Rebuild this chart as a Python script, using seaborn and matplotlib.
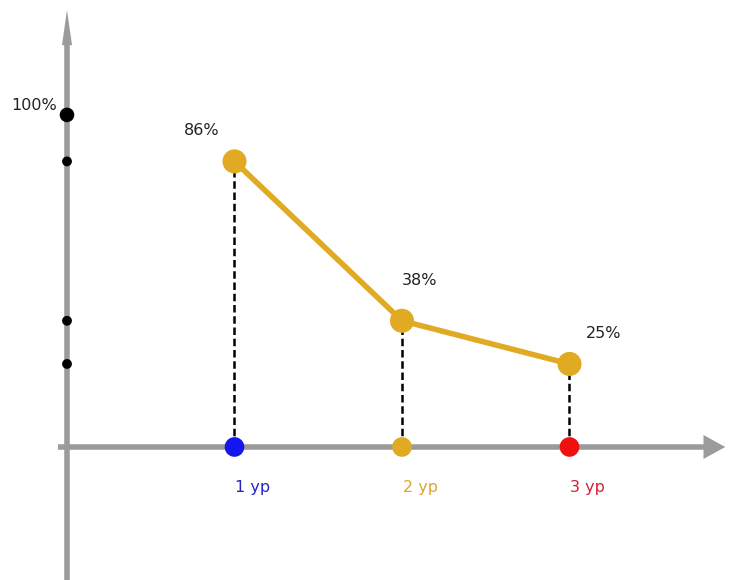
import matplotlib
matplotlib.use("Agg")
import matplotlib.pyplot as plt
import seaborn as sns
import pandas as pd

# Data
levels = ["1 ур", "2 ур", "3 ур"]
positions = [1, 2, 3]
values = [86, 38, 25]
level_colors = ["#1515F0", "#E0AA22", "#F01010"]
label_colors = ["#2424C8", "#D8A930", "#D42035"]
axis_ticks = [100, 86, 38, 25]

df = pd.DataFrame({"pos": positions, "value": values, "level": levels})

sns.set_theme(style="white")
plt.rcParams["font.family"] = ["DejaVu Sans"]

fig = plt.figure(figsize=(7.38, 5.8), dpi=100)
ax = fig.add_axes([0, 0, 1, 1])
ax.set_xlim(-0.4, 4.006)
ax.set_ylim(-40.06, 134.6)
ax.axis("off")

gray = "#9B9B9B"
gold = "#E0AA22"

# Axes drawn as arrows
ax.plot([0, 0], [-41, 122], color=gray, lw=4, solid_capstyle="butt", zorder=1)
ax.fill([-0.03, 0.03, 0], [121, 121, 131.6], color=gray, lw=0, zorder=1)
ax.plot([-0.055, 3.82], [0, 0], color=gray, lw=4, solid_capstyle="butt", zorder=1)
ax.fill([3.80, 3.80, 3.93], [-3.6, 3.6, 0], color=gray, lw=0, zorder=1)

# Dashed projections to the x axis
ax.vlines(df["pos"], 0, df["value"], colors="black", linestyles=(0, (3, 1.5)), lw=1.8, zorder=2)

# Main line with points
sns.lineplot(data=df, x="pos", y="value", color=gold, lw=4, ax=ax, zorder=3, legend=False)
sns.scatterplot(data=df, x="pos", y="value", color=gold, s=300, edgecolor="none", ax=ax, zorder=4, legend=False)

# Points on the x axis
sns.scatterplot(x=positions, y=[0] * len(positions), hue=levels, palette=level_colors,
                s=200, edgecolor="none", ax=ax, zorder=4, legend=False)

# Points on the y axis
sns.scatterplot(x=[0] * len(axis_ticks), y=axis_ticks, color="black",
                s=[110, 50, 50, 50], edgecolor="none", ax=ax, zorder=4, legend=False)

ax.text(-0.06, 102.7, "100%", ha="right", va="center", fontsize=11.5, color="#222222")

label_offsets = [(-0.305, 9.4), (0.0, 12.2), (0.1, 9.2)]
for p, v, (dx, dy) in zip(positions, values, label_offsets):
    ax.text(p + dx, v + dy, f"{v}%", ha="left", va="center", fontsize=11.5, color="#222222")

for p, lab, c in zip(positions, levels, label_colors):
    ax.text(p + 0.005, -12.3, lab, ha="left", va="center", fontsize=11.5, color=c)

fig.savefig("out.png", dpi=100)
